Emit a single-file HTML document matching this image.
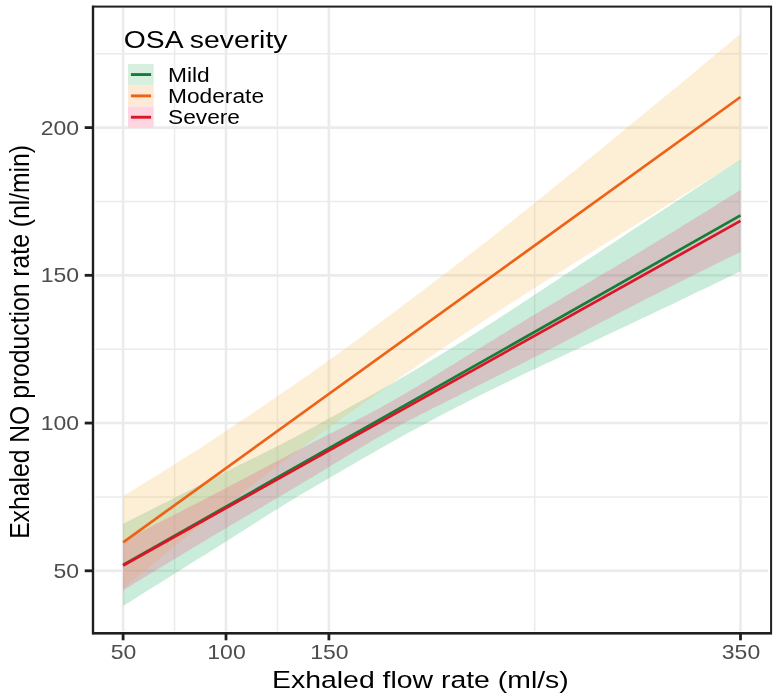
<!DOCTYPE html>
<html><head><meta charset="utf-8"><style>
html,body{margin:0;padding:0;background:#fff;}
body{width:779px;height:700px;overflow:hidden;}
svg{display:block;filter:blur(0.35px);}
</style></head><body>
<svg width="779" height="700" viewBox="0 0 779 700">
<rect width="779" height="700" fill="#fff"/>
<line x1="174.55" y1="8.3" x2="174.55" y2="631.2" stroke="#ebebeb" stroke-width="1.5"/>
<line x1="277.45" y1="8.3" x2="277.45" y2="631.2" stroke="#ebebeb" stroke-width="1.5"/>
<line x1="534.70" y1="8.3" x2="534.70" y2="631.2" stroke="#ebebeb" stroke-width="1.5"/>
<line x1="95.3" y1="496.93" x2="768.0" y2="496.93" stroke="#ebebeb" stroke-width="1.5"/>
<line x1="95.3" y1="349.20" x2="768.0" y2="349.20" stroke="#ebebeb" stroke-width="1.5"/>
<line x1="95.3" y1="201.46" x2="768.0" y2="201.46" stroke="#ebebeb" stroke-width="1.5"/>
<line x1="95.3" y1="53.73" x2="768.0" y2="53.73" stroke="#ebebeb" stroke-width="1.5"/>
<line x1="123.10" y1="8.3" x2="123.10" y2="631.2" stroke="#ebebeb" stroke-width="2.6"/>
<line x1="226.00" y1="8.3" x2="226.00" y2="631.2" stroke="#ebebeb" stroke-width="2.6"/>
<line x1="328.90" y1="8.3" x2="328.90" y2="631.2" stroke="#ebebeb" stroke-width="2.6"/>
<line x1="740.50" y1="8.3" x2="740.50" y2="631.2" stroke="#ebebeb" stroke-width="2.6"/>
<line x1="95.3" y1="570.80" x2="768.0" y2="570.80" stroke="#ebebeb" stroke-width="2.6"/>
<line x1="95.3" y1="423.06" x2="768.0" y2="423.06" stroke="#ebebeb" stroke-width="2.6"/>
<line x1="95.3" y1="275.33" x2="768.0" y2="275.33" stroke="#ebebeb" stroke-width="2.6"/>
<line x1="95.3" y1="127.59" x2="768.0" y2="127.59" stroke="#ebebeb" stroke-width="2.6"/>
<path d="M123.10,523.82 L128.25,521.22 L133.39,518.62 L138.53,516.02 L143.68,513.42 L148.82,510.81 L153.97,508.21 L159.12,505.61 L164.26,503.01 L169.40,500.41 L174.55,497.80 L179.69,495.20 L184.84,492.60 L189.98,490.00 L195.13,487.39 L200.27,484.79 L205.42,482.19 L210.56,479.58 L215.71,476.98 L220.85,474.38 L226.00,471.77 L231.14,469.18 L236.29,466.61 L241.44,464.06 L246.58,461.51 L251.72,458.97 L256.87,456.43 L262.01,453.88 L267.16,451.32 L272.30,448.74 L277.45,446.14 L282.59,443.51 L287.74,440.84 L292.88,438.13 L298.03,435.38 L303.17,432.58 L308.32,429.78 L313.46,426.97 L318.61,424.16 L323.75,421.35 L328.90,418.53 L334.04,415.71 L339.19,412.88 L344.33,410.04 L349.48,407.20 L354.62,404.35 L359.77,401.49 L364.91,398.63 L370.06,395.76 L375.20,392.88 L380.35,389.99 L385.50,387.09 L390.64,384.18 L395.78,381.25 L400.93,378.28 L406.07,375.28 L411.22,372.26 L416.37,369.21 L421.51,366.14 L426.65,363.07 L431.80,359.98 L436.94,356.89 L442.09,353.80 L447.24,350.69 L452.38,347.54 L457.52,344.36 L462.67,341.17 L467.81,337.95 L472.96,334.72 L478.11,331.49 L483.25,328.24 L488.39,324.97 L493.54,321.68 L498.68,318.37 L503.83,315.05 L508.97,311.71 L514.12,308.36 L519.26,304.99 L524.41,301.61 L529.55,298.23 L534.70,294.83 L539.84,291.42 L544.99,288.01 L550.13,284.60 L555.28,281.18 L560.42,277.76 L565.57,274.34 L570.71,270.92 L575.86,267.50 L581.00,264.09 L586.15,260.68 L591.29,257.27 L596.44,253.88 L601.58,250.49 L606.73,247.10 L611.88,243.71 L617.02,240.32 L622.16,236.92 L627.31,233.52 L632.45,230.12 L637.60,226.73 L642.75,223.33 L647.89,219.94 L653.03,216.54 L658.18,213.16 L663.32,209.78 L668.47,206.40 L673.62,203.04 L678.76,199.67 L683.90,196.31 L689.05,192.95 L694.19,189.60 L699.34,186.24 L704.49,182.89 L709.63,179.55 L714.77,176.20 L719.92,172.86 L725.06,169.53 L730.21,166.19 L735.36,162.86 L740.50,159.54 L740.50,271.22 L735.36,273.72 L730.21,276.22 L725.06,278.71 L719.92,281.20 L714.77,283.68 L709.63,286.16 L704.49,288.64 L699.34,291.12 L694.19,293.59 L689.05,296.06 L683.90,298.53 L678.76,300.99 L673.62,303.45 L668.47,305.91 L663.32,308.36 L658.18,310.80 L653.03,313.24 L647.89,315.68 L642.75,318.11 L637.60,320.54 L632.45,322.96 L627.31,325.39 L622.16,327.82 L617.02,330.25 L611.88,332.68 L606.73,335.11 L601.58,337.55 L596.44,339.99 L591.29,342.42 L586.15,344.84 L581.00,347.25 L575.86,349.66 L570.71,352.07 L565.57,354.48 L560.42,356.88 L555.28,359.29 L550.13,361.69 L544.99,364.10 L539.84,366.52 L534.70,368.94 L529.55,371.37 L524.41,373.80 L519.26,376.25 L514.12,378.71 L508.97,381.18 L503.83,383.67 L498.68,386.17 L493.54,388.69 L488.39,391.22 L483.25,393.78 L478.11,396.36 L472.96,398.95 L467.81,401.54 L462.67,404.15 L457.52,406.78 L452.38,409.43 L447.24,412.11 L442.09,414.81 L436.94,417.55 L431.80,420.29 L426.65,423.03 L421.51,425.78 L416.37,428.54 L411.22,431.31 L406.07,434.11 L400.93,436.94 L395.78,439.79 L390.64,442.69 L385.50,445.60 L380.35,448.53 L375.20,451.47 L370.06,454.41 L364.91,457.37 L359.77,460.33 L354.62,463.30 L349.48,466.28 L344.33,469.26 L339.19,472.25 L334.04,475.24 L328.90,478.24 L323.75,481.25 L318.61,484.26 L313.46,487.28 L308.32,490.29 L303.17,493.32 L298.03,496.35 L292.88,499.42 L287.74,502.53 L282.59,505.69 L277.45,508.89 L272.30,512.11 L267.16,515.35 L262.01,518.62 L256.87,521.89 L251.72,525.18 L246.58,528.46 L241.44,531.74 L236.29,535.02 L231.14,538.27 L226.00,541.50 L220.85,544.73 L215.71,547.95 L210.56,551.17 L205.42,554.39 L200.27,557.61 L195.13,560.84 L189.98,564.06 L184.84,567.28 L179.69,570.50 L174.55,573.73 L169.40,576.95 L164.26,580.17 L159.12,583.39 L153.97,586.62 L148.82,589.84 L143.68,593.07 L138.53,596.29 L133.39,599.51 L128.25,602.74 L123.10,605.96 Z" fill="#2bb36b" fill-opacity="0.25"/>
<path d="M123.10,496.05 L128.25,492.93 L133.39,489.80 L138.53,486.67 L143.68,483.52 L148.82,480.36 L153.97,477.19 L159.12,474.01 L164.26,470.81 L169.40,467.59 L174.55,464.36 L179.69,461.12 L184.84,457.85 L189.98,454.57 L195.13,451.26 L200.27,447.94 L205.42,444.59 L210.56,441.22 L215.71,437.83 L220.85,434.41 L226.00,430.97 L231.14,427.51 L236.29,424.06 L241.44,420.60 L246.58,417.14 L251.72,413.68 L256.87,410.22 L262.01,406.74 L267.16,403.26 L272.30,399.77 L277.45,396.26 L282.59,392.75 L287.74,389.22 L292.88,385.67 L298.03,382.10 L303.17,378.52 L308.32,374.92 L313.46,371.30 L318.61,367.65 L323.75,363.98 L328.90,360.28 L334.04,356.56 L339.19,352.82 L344.33,349.06 L349.48,345.29 L354.62,341.51 L359.77,337.71 L364.91,333.90 L370.06,330.07 L375.20,326.24 L380.35,322.40 L385.50,318.55 L390.64,314.69 L395.78,310.82 L400.93,306.95 L406.07,303.08 L411.22,299.20 L416.37,295.32 L421.51,291.44 L426.65,287.56 L431.80,283.68 L436.94,279.78 L442.09,275.87 L447.24,271.93 L452.38,267.98 L457.52,264.01 L462.67,260.03 L467.81,256.03 L472.96,252.03 L478.11,248.02 L483.25,243.99 L488.39,239.95 L493.54,235.89 L498.68,231.80 L503.83,227.70 L508.97,223.59 L514.12,219.47 L519.26,215.34 L524.41,211.21 L529.55,207.07 L534.70,202.94 L539.84,198.80 L544.99,194.66 L550.13,190.51 L555.28,186.35 L560.42,182.19 L565.57,178.02 L570.71,173.85 L575.86,169.67 L581.00,165.48 L586.15,161.29 L591.29,157.09 L596.44,152.89 L601.58,148.68 L606.73,144.45 L611.88,140.21 L617.02,135.96 L622.16,131.70 L627.31,127.44 L632.45,123.19 L637.60,118.95 L642.75,114.73 L647.89,110.51 L653.03,106.30 L658.18,102.09 L663.32,97.87 L668.47,93.64 L673.62,89.40 L678.76,85.15 L683.90,80.90 L689.05,76.64 L694.19,72.38 L699.34,68.11 L704.49,63.84 L709.63,59.57 L714.77,55.28 L719.92,51.00 L725.06,46.70 L730.21,42.40 L735.36,38.10 L740.50,33.78 L740.50,160.24 L735.36,163.36 L730.21,166.47 L725.06,169.60 L719.92,172.73 L714.77,175.86 L709.63,179.00 L704.49,182.15 L699.34,185.30 L694.19,188.46 L689.05,191.62 L683.90,194.79 L678.76,197.96 L673.62,201.14 L668.47,204.32 L663.32,207.51 L658.18,210.72 L653.03,213.93 L647.89,217.14 L642.75,220.35 L637.60,223.55 L632.45,226.73 L627.31,229.91 L622.16,233.07 L617.02,236.24 L611.88,239.41 L606.73,242.59 L601.58,245.79 L596.44,249.01 L591.29,252.23 L586.15,255.45 L581.00,258.68 L575.86,261.92 L570.71,265.16 L565.57,268.41 L560.42,271.67 L555.28,274.93 L550.13,278.19 L544.99,281.47 L539.84,284.75 L534.70,288.04 L529.55,291.32 L524.41,294.61 L519.26,297.90 L514.12,301.20 L508.97,304.50 L503.83,307.81 L498.68,311.14 L493.54,314.48 L488.39,317.84 L483.25,321.22 L478.11,324.62 L472.96,328.03 L467.81,331.45 L462.67,334.88 L457.52,338.32 L452.38,341.77 L447.24,345.24 L442.09,348.73 L436.94,352.24 L431.80,355.77 L426.65,359.31 L421.51,362.86 L416.37,366.40 L411.22,369.94 L406.07,373.49 L400.93,377.04 L395.78,380.59 L390.64,384.15 L385.50,387.71 L380.35,391.29 L375.20,394.87 L370.06,398.46 L364.91,402.06 L359.77,405.67 L354.62,409.30 L349.48,412.94 L344.33,416.59 L339.19,420.26 L334.04,423.94 L328.90,427.64 L323.75,431.37 L318.61,435.12 L313.46,438.90 L308.32,442.70 L303.17,446.52 L298.03,450.36 L292.88,454.22 L287.74,458.10 L282.59,461.99 L277.45,465.90 L272.30,469.82 L267.16,473.75 L262.01,477.69 L256.87,481.64 L251.72,485.60 L246.58,489.56 L241.44,493.52 L236.29,497.49 L231.14,501.46 L226.00,505.43 L220.85,509.41 L215.71,513.41 L210.56,517.44 L205.42,521.50 L200.27,525.58 L195.13,529.67 L189.98,533.79 L184.84,537.93 L179.69,542.09 L174.55,546.27 L169.40,550.46 L164.26,554.67 L159.12,558.90 L153.97,563.14 L148.82,567.39 L143.68,571.66 L138.53,575.93 L133.39,580.22 L128.25,584.52 L123.10,588.82 Z" fill="#f7bb5b" fill-opacity="0.25"/>
<path d="M123.10,540.66 L128.25,538.07 L133.39,535.47 L138.53,532.87 L143.68,530.26 L148.82,527.65 L153.97,525.03 L159.12,522.41 L164.26,519.79 L169.40,517.16 L174.55,514.53 L179.69,511.89 L184.84,509.25 L189.98,506.61 L195.13,503.96 L200.27,501.30 L205.42,498.65 L210.56,495.98 L215.71,493.31 L220.85,490.64 L226.00,487.96 L231.14,485.28 L236.29,482.59 L241.44,479.89 L246.58,477.18 L251.72,474.47 L256.87,471.75 L262.01,469.03 L267.16,466.31 L272.30,463.59 L277.45,460.88 L282.59,458.16 L287.74,455.46 L292.88,452.75 L298.03,450.06 L303.17,447.38 L308.32,444.72 L313.46,442.09 L318.61,439.47 L323.75,436.87 L328.90,434.28 L334.04,431.69 L339.19,429.10 L344.33,426.50 L349.48,423.89 L354.62,421.27 L359.77,418.62 L364.91,415.94 L370.06,413.23 L375.20,410.49 L380.35,407.70 L385.50,404.87 L390.64,401.98 L395.78,399.05 L400.93,396.08 L406.07,393.07 L411.22,390.03 L416.37,386.96 L421.51,383.86 L426.65,380.75 L431.80,377.61 L436.94,374.45 L442.09,371.29 L447.24,368.12 L452.38,364.94 L457.52,361.77 L462.67,358.60 L467.81,355.43 L472.96,352.28 L478.11,349.14 L483.25,346.01 L488.39,342.87 L493.54,339.71 L498.68,336.55 L503.83,333.38 L508.97,330.22 L514.12,327.05 L519.26,323.90 L524.41,320.75 L529.55,317.62 L534.70,314.51 L539.84,311.42 L544.99,308.33 L550.13,305.26 L555.28,302.19 L560.42,299.14 L565.57,296.09 L570.71,293.04 L575.86,290.00 L581.00,286.96 L586.15,283.92 L591.29,280.88 L596.44,277.84 L601.58,274.80 L606.73,271.75 L611.88,268.70 L617.02,265.65 L622.16,262.58 L627.31,259.51 L632.45,256.43 L637.60,253.34 L642.75,250.23 L647.89,247.12 L653.03,244.00 L658.18,240.87 L663.32,237.73 L668.47,234.59 L673.62,231.44 L678.76,228.28 L683.90,225.11 L689.05,221.94 L694.19,218.77 L699.34,215.58 L704.49,212.39 L709.63,209.19 L714.77,205.99 L719.92,202.79 L725.06,199.57 L730.21,196.36 L735.36,193.14 L740.50,189.91 L740.50,251.96 L735.36,254.47 L730.21,257.00 L725.06,259.52 L719.92,262.05 L714.77,264.59 L709.63,267.13 L704.49,269.67 L699.34,272.23 L694.19,274.78 L689.05,277.35 L683.90,279.92 L678.76,282.50 L673.62,285.08 L668.47,287.67 L663.32,290.27 L658.18,292.88 L653.03,295.49 L647.89,298.11 L642.75,300.74 L637.60,303.38 L632.45,306.03 L627.31,308.69 L622.16,311.36 L617.02,314.04 L611.88,316.73 L606.73,319.42 L601.58,322.12 L596.44,324.82 L591.29,327.52 L586.15,330.22 L581.00,332.93 L575.86,335.63 L570.71,338.33 L565.57,341.03 L560.42,343.72 L555.28,346.40 L550.13,349.08 L544.99,351.75 L539.84,354.41 L534.70,357.06 L529.55,359.69 L524.41,362.30 L519.26,364.90 L514.12,367.48 L508.97,370.06 L503.83,372.64 L498.68,375.21 L493.54,377.79 L488.39,380.38 L483.25,382.98 L478.11,385.59 L472.96,388.20 L467.81,390.79 L462.67,393.36 L457.52,395.93 L452.38,398.50 L447.24,401.07 L442.09,403.64 L436.94,406.22 L431.80,408.81 L426.65,411.41 L421.51,414.04 L416.37,416.68 L411.22,419.35 L406.07,422.06 L400.93,424.79 L395.78,427.56 L390.64,430.38 L385.50,433.23 L380.35,436.14 L375.20,439.09 L370.06,442.09 L364.91,445.13 L359.77,448.19 L354.62,451.29 L349.48,454.40 L344.33,457.53 L339.19,460.68 L334.04,463.83 L328.90,466.98 L323.75,470.13 L318.61,473.28 L313.46,476.40 L308.32,479.51 L303.17,482.60 L298.03,485.66 L292.88,488.71 L287.74,491.75 L282.59,494.78 L277.45,497.81 L272.30,500.84 L267.16,503.86 L262.01,506.88 L256.87,509.91 L251.72,512.94 L246.58,515.97 L241.44,519.00 L236.29,522.04 L231.14,525.09 L226.00,528.15 L220.85,531.21 L215.71,534.28 L210.56,537.36 L205.42,540.44 L200.27,543.52 L195.13,546.61 L189.98,549.70 L184.84,552.80 L179.69,555.90 L174.55,559.01 L169.40,562.12 L164.26,565.23 L159.12,568.35 L153.97,571.48 L148.82,574.60 L143.68,577.73 L138.53,580.87 L133.39,584.01 L128.25,587.15 L123.10,590.30 Z" fill="#f64c82" fill-opacity="0.25"/>
<path d="M123.10,564.89 L740.50,215.38" stroke="#167c3a" stroke-width="2.7" fill="none"/>
<path d="M123.10,542.43 L740.50,97.01" stroke="#ee6216" stroke-width="2.7" fill="none"/>
<path d="M123.10,565.48 L740.50,220.93" stroke="#dc1426" stroke-width="2.7" fill="none"/>
<rect x="93.0" y="6.6" width="678.10" height="626.60" fill="none" stroke="#1f1f1f" stroke-width="2.0"/>
<line x1="93.0" y1="5.699999999999999" x2="93.0" y2="634.2" stroke="#1f1f1f" stroke-width="2.4"/>
<line x1="92.0" y1="633.2" x2="772.0" y2="633.2" stroke="#1f1f1f" stroke-width="2.4"/>
<line x1="84.7" y1="570.80" x2="93.0" y2="570.80" stroke="#1f1f1f" stroke-width="2.8"/>
<line x1="84.7" y1="423.06" x2="93.0" y2="423.06" stroke="#1f1f1f" stroke-width="2.8"/>
<line x1="84.7" y1="275.33" x2="93.0" y2="275.33" stroke="#1f1f1f" stroke-width="2.8"/>
<line x1="84.7" y1="127.59" x2="93.0" y2="127.59" stroke="#1f1f1f" stroke-width="2.8"/>
<line x1="123.10" y1="633.2" x2="123.10" y2="640.3" stroke="#1f1f1f" stroke-width="2.8"/>
<line x1="226.00" y1="633.2" x2="226.00" y2="640.3" stroke="#1f1f1f" stroke-width="2.8"/>
<line x1="328.90" y1="633.2" x2="328.90" y2="640.3" stroke="#1f1f1f" stroke-width="2.8"/>
<line x1="740.50" y1="633.2" x2="740.50" y2="640.3" stroke="#1f1f1f" stroke-width="2.8"/>
<text transform="translate(79.00,577.90) scale(1.15,1)" text-anchor="end" style="font-family:'Liberation Sans',sans-serif;font-size:20px" fill="#4d4d4d">50</text>
<text transform="translate(79.00,430.16) scale(1.15,1)" text-anchor="end" style="font-family:'Liberation Sans',sans-serif;font-size:20px" fill="#4d4d4d">100</text>
<text transform="translate(79.00,282.43) scale(1.15,1)" text-anchor="end" style="font-family:'Liberation Sans',sans-serif;font-size:20px" fill="#4d4d4d">150</text>
<text transform="translate(79.00,134.69) scale(1.15,1)" text-anchor="end" style="font-family:'Liberation Sans',sans-serif;font-size:20px" fill="#4d4d4d">200</text>
<text transform="translate(123.60,659.40) scale(1.15,1)" text-anchor="middle" style="font-family:'Liberation Sans',sans-serif;font-size:20px" fill="#4d4d4d">50</text>
<text transform="translate(226.50,659.40) scale(1.15,1)" text-anchor="middle" style="font-family:'Liberation Sans',sans-serif;font-size:20px" fill="#4d4d4d">100</text>
<text transform="translate(329.40,659.40) scale(1.15,1)" text-anchor="middle" style="font-family:'Liberation Sans',sans-serif;font-size:20px" fill="#4d4d4d">150</text>
<text transform="translate(741.00,659.40) scale(1.15,1)" text-anchor="middle" style="font-family:'Liberation Sans',sans-serif;font-size:20px" fill="#4d4d4d">350</text>
<text transform="translate(420.4,687.5) scale(1.15,1)" text-anchor="middle" style="font-family:'Liberation Sans',sans-serif;font-size:24.7px" fill="#000">Exhaled flow rate (ml/s)</text>
<text transform="translate(29.2,341.9) scale(1.15,1) rotate(-90)" text-anchor="middle" style="font-family:'Liberation Sans',sans-serif;font-size:24.7px" fill="#000">Exhaled NO production rate (nl/min)</text>
<text transform="translate(123.8,48.4) scale(1.17,1)" style="font-family:'Liberation Sans',sans-serif;font-size:24.2px" fill="#000">OSA severity</text>
<rect x="128" y="63.90" width="25.70" height="21.33" fill="#d6efde"/>
<line x1="130.9" y1="74.56" x2="151.1" y2="74.56" stroke="#167c3a" stroke-width="2.9"/>
<text transform="translate(168.0,81.50) scale(1.166,1)" style="font-family:'Liberation Sans',sans-serif;font-size:19.5px" fill="#000">Mild</text>
<rect x="128" y="85.23" width="25.70" height="21.33" fill="#fde9d6"/>
<line x1="130.9" y1="95.89" x2="151.1" y2="95.89" stroke="#ee6216" stroke-width="2.9"/>
<text transform="translate(168.0,102.83) scale(1.166,1)" style="font-family:'Liberation Sans',sans-serif;font-size:19.5px" fill="#000">Moderate</text>
<rect x="128" y="106.56" width="25.70" height="21.33" fill="#fdd6e2"/>
<line x1="130.9" y1="117.22" x2="151.1" y2="117.22" stroke="#dc1426" stroke-width="2.9"/>
<text transform="translate(168.0,124.16) scale(1.166,1)" style="font-family:'Liberation Sans',sans-serif;font-size:19.5px" fill="#000">Severe</text>
</svg>
</body></html>
